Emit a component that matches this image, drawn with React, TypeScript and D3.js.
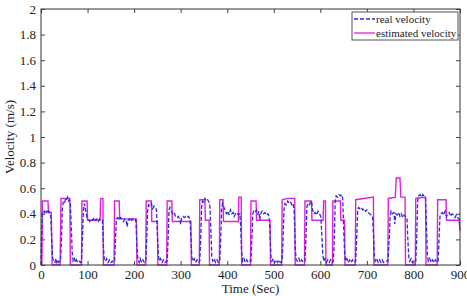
import React, { useEffect, useRef } from 'react';
import { select, scaleLinear, line, axisBottom, axisLeft, axisTop, axisRight, range } from 'd3';

// time (s), velocity (m/s)
const estimatedVelocity: [number, number][] = [
  [0, 0], [2, 0], [3, 0.5], [15, 0.5], [16, 0.41], [22, 0.41], [24, 0],
  [41, 0], [43, 0.52], [62, 0.52], [63, 0],
  [87, 0], [88, 0.5], [99, 0.5], [100, 0.35], [127, 0.35], [128, 0.52], [133, 0.52], [134, 0],
  [157, 0], [158, 0.5], [168, 0.5], [169, 0.36], [205, 0.36], [206, 0],
  [225, 0], [226, 0.5], [237, 0.5], [238, 0.34], [250, 0.34], [251, 0],
  [270, 0], [271, 0.5], [281, 0.5], [282, 0.34], [322, 0.34], [323, 0],
  [340, 0], [341, 0.51], [352, 0.51], [353, 0.35], [361, 0.35], [362, 0],
  [383, 0], [384, 0.51], [391, 0.51], [392, 0.34], [424, 0.34], [425, 0.53], [430, 0.53], [431, 0],
  [450, 0], [451, 0.5], [462, 0.5], [463, 0.35], [492, 0.35], [493, 0],
  [517, 0], [518, 0.51], [530, 0.52], [545, 0.52], [546, 0],
  [566, 0], [567, 0.5], [581, 0.5], [582, 0.35], [606, 0.35], [607, 0.5], [611, 0.5], [612, 0],
  [626, 0], [627, 0.5], [643, 0.5], [644, 0.35], [652, 0.35], [653, 0],
  [675, 0], [676, 0.51], [714, 0.53], [715, 0],
  [745, 0], [746, 0.52], [761, 0.53], [763, 0.68], [771, 0.68], [773, 0.53], [782, 0.53], [783, 0],
  [804, 0], [805, 0.52], [826, 0.53], [827, 0],
  [851, 0], [852, 0.51], [870, 0.51], [871, 0.35], [898, 0.35], [900, 0.27],
];

const realVelocity: [number, number][] = [
  [0, 0], [1, 0.2], [3, 0.4], [5, 0.42], [7, 0.41], [9, 0.43], [11, 0.41], [13, 0.42], [15, 0.4], [17, 0.42], [19, 0.41], [21, 0.38], [23, 0.2], [25, 0.06], [27, 0.03], [30, 0.02], [32, 0.05], [34, 0.02], [36, 0.04], [38, 0.02], [40, 0.03], [42, 0.03],
  [44, 0.2], [46, 0.45], [48, 0.5], [51, 0.49], [53, 0.52], [55, 0.51], [57, 0.53], [59, 0.5], [61, 0.51], [63, 0.48], [65, 0.3], [67, 0.1], [69, 0.03], [72, 0.05], [74, 0.02], [76, 0.04], [79, 0.02], [82, 0.03], [85, 0.02], [87, 0.03],
  [89, 0.2], [91, 0.42], [93, 0.48], [95, 0.45], [97, 0.4], [99, 0.37], [102, 0.36], [105, 0.34], [108, 0.36], [111, 0.35], [114, 0.37], [117, 0.35], [120, 0.36], [123, 0.34], [126, 0.36], [129, 0.35], [132, 0.35], [134, 0.15], [136, 0.04], [139, 0.03], [141, 0.05], [144, 0.02], [147, 0.04], [150, 0.02], [153, 0.03], [156, 0.02], [158, 0.03],
  [160, 0.2], [162, 0.36], [165, 0.37], [168, 0.35], [171, 0.37], [174, 0.36], [177, 0.34], [180, 0.36], [183, 0.35], [185, 0.3], [187, 0.35], [190, 0.36], [193, 0.34], [196, 0.36], [199, 0.35], [202, 0.36], [204, 0.34], [206, 0.15], [208, 0.04], [211, 0.02], [213, 0.05], [216, 0.02], [219, 0.04], [222, 0.02], [225, 0.03],
  [227, 0.2], [229, 0.42], [231, 0.47], [234, 0.46], [237, 0.48], [240, 0.44], [243, 0.46], [246, 0.45], [248, 0.43], [250, 0.25], [252, 0.08], [254, 0.03], [257, 0.05], [260, 0.02], [263, 0.04], [266, 0.02], [269, 0.03], [271, 0.03],
  [273, 0.2], [275, 0.43], [277, 0.45], [280, 0.42], [283, 0.4], [286, 0.41], [289, 0.38], [292, 0.37], [295, 0.38], [298, 0.36], [300, 0.32], [302, 0.37], [305, 0.38], [308, 0.37], [311, 0.38], [314, 0.37], [317, 0.38], [320, 0.36], [322, 0.2], [324, 0.06], [326, 0.03], [329, 0.05], [332, 0.02], [335, 0.04], [338, 0.02], [341, 0.03],
  [343, 0.2], [345, 0.45], [347, 0.5], [350, 0.49], [352, 0.52], [355, 0.5], [358, 0.51], [361, 0.49], [363, 0.45], [365, 0.25], [367, 0.06], [369, 0.03], [372, 0.05], [375, 0.02], [378, 0.04], [381, 0.02], [384, 0.03],
  [386, 0.2], [388, 0.44], [390, 0.48], [393, 0.45], [396, 0.42], [399, 0.4], [402, 0.42], [404, 0.39], [407, 0.43], [410, 0.4], [413, 0.41], [415, 0.38], [418, 0.4], [421, 0.41], [424, 0.39], [427, 0.4], [429, 0.3], [431, 0.1], [433, 0.03], [436, 0.05], [439, 0.02], [442, 0.04], [445, 0.02], [448, 0.03], [451, 0.03],
  [453, 0.2], [455, 0.4], [457, 0.42], [460, 0.41], [463, 0.43], [466, 0.4], [468, 0.42], [470, 0.35], [472, 0.4], [475, 0.42], [478, 0.4], [481, 0.41], [484, 0.39], [487, 0.4], [490, 0.38], [492, 0.25], [494, 0.06], [496, 0.03], [499, 0.05], [502, 0.02], [505, 0.04], [508, 0.02], [511, 0.04], [514, 0.02], [518, 0.03],
  [520, 0.2], [522, 0.44], [524, 0.48], [527, 0.47], [530, 0.5], [533, 0.48], [536, 0.49], [539, 0.47], [542, 0.48], [544, 0.4], [546, 0.15], [548, 0.04], [551, 0.03], [554, 0.05], [557, 0.02], [560, 0.04], [563, 0.02], [567, 0.03],
  [569, 0.2], [571, 0.45], [573, 0.48], [576, 0.47], [579, 0.49], [581, 0.5], [583, 0.44], [586, 0.4], [589, 0.41], [592, 0.39], [595, 0.42], [598, 0.4], [601, 0.38], [603, 0.25], [605, 0.1], [607, 0.03], [610, 0.05], [613, 0.02], [616, 0.04], [619, 0.02], [622, 0.04], [625, 0.02], [628, 0.03],
  [630, 0.2], [632, 0.5], [634, 0.54], [637, 0.53], [640, 0.55], [643, 0.54], [646, 0.55], [648, 0.52], [650, 0.3], [652, 0.1], [654, 0.03], [657, 0.05], [660, 0.02], [663, 0.04], [666, 0.02], [669, 0.04], [672, 0.02], [676, 0.03],
  [678, 0.2], [680, 0.42], [682, 0.45], [685, 0.44], [688, 0.45], [691, 0.43], [694, 0.44], [697, 0.42], [700, 0.43], [703, 0.41], [706, 0.4], [709, 0.39], [712, 0.38], [714, 0.25], [716, 0.08], [718, 0.03], [721, 0.05], [724, 0.02], [727, 0.04], [730, 0.02], [733, 0.04], [736, 0.02], [740, 0.03], [745, 0.03],
  [748, 0.2], [750, 0.38], [752, 0.42], [755, 0.4], [758, 0.41], [760, 0.32], [762, 0.4], [765, 0.39], [768, 0.41], [771, 0.38], [774, 0.4], [777, 0.37], [780, 0.39], [783, 0.38], [786, 0.37], [788, 0.2], [790, 0.06], [792, 0.03], [795, 0.05], [798, 0.02], [801, 0.04], [805, 0.03],
  [807, 0.2], [809, 0.5], [811, 0.54], [814, 0.55], [817, 0.53], [820, 0.55], [823, 0.54], [826, 0.52], [828, 0.3], [830, 0.08], [832, 0.03], [835, 0.05], [838, 0.02], [841, 0.04], [844, 0.02], [847, 0.04], [850, 0.02], [853, 0.03],
  [855, 0.2], [857, 0.38], [859, 0.4], [862, 0.41], [865, 0.39], [868, 0.42], [871, 0.38], [874, 0.4], [877, 0.41], [880, 0.38], [883, 0.4], [886, 0.39], [889, 0.37], [892, 0.39], [895, 0.37], [898, 0.36], [900, 0.33],
];

const xTicks = range(0, 901, 100);
const yTicks = range(0, 2.01, 0.2);
const legendItems = [
  { label: 'real velocity', color: '#2b2bd9', dash: '4,2' },
  { label: 'estimated velocity', color: '#e020e0', dash: null },
];

const W = 467;
const H = 296;
const margin = { top: 9, right: 7, bottom: 31, left: 41 };
const font = "'Liberation Serif', 'Times New Roman', serif";
const ink = '#222';

const Chart = () => {
  const ref = useRef<SVGSVGElement>(null);

  useEffect(() => {
    const svg = select(ref.current);
    svg.selectAll('*').remove();

    const x = scaleLinear().domain([0, 900]).range([margin.left, W - margin.right]);
    const y = scaleLinear().domain([0, 2]).range([H - margin.bottom, margin.top]);

    svg.append('rect').attr('width', W).attr('height', H).attr('fill', '#fff');

    const fmt = (d) => `${+d.toFixed(1)}`;

    // inward ticks on all four sides (matlab-style box)
    const bottom = svg
      .append('g')
      .attr('transform', `translate(0,${y(0)})`)
      .call(axisBottom(x).tickValues(xTicks).tickSize(-4).tickPadding(5));
    const left = svg
      .append('g')
      .attr('transform', `translate(${x(0)},0)`)
      .call(axisLeft(y).tickValues(yTicks).tickFormat(fmt).tickSize(-4).tickPadding(5));
    const top = svg
      .append('g')
      .attr('transform', `translate(0,${y(2)})`)
      .call(axisTop(x).tickValues(xTicks).tickSize(-4).tickFormat(() => ''));
    const right = svg
      .append('g')
      .attr('transform', `translate(${x(900)},0)`)
      .call(axisRight(y).tickValues(yTicks).tickSize(-4).tickFormat(() => ''));

    [bottom, left, top, right].forEach((g) => {
      g.attr('font-family', null).attr('font-size', null);
      g.select('.domain').remove();
      g.selectAll('line').attr('stroke', '#444');
      g.selectAll('text')
        .style('font-family', font)
        .style('font-size', '13px')
        .attr('fill', ink);
    });

    const lineGen = line<[number, number]>()
      .x((d) => x(d[0]))
      .y((d) => y(d[1]));

    svg
      .append('path')
      .datum(estimatedVelocity)
      .attr('d', lineGen)
      .attr('fill', 'none')
      .attr('stroke', legendItems[1].color)
      .attr('stroke-width', 1.4);

    svg
      .append('path')
      .datum(realVelocity)
      .attr('d', lineGen)
      .attr('fill', 'none')
      .attr('stroke', legendItems[0].color)
      .attr('stroke-width', 1.3)
      .attr('stroke-dasharray', legendItems[0].dash);

    // frame
    svg
      .append('rect')
      .attr('x', x(0))
      .attr('y', y(2))
      .attr('width', x(900) - x(0))
      .attr('height', y(0) - y(2))
      .attr('fill', 'none')
      .attr('stroke', '#333')
      .attr('stroke-width', 1);

    // legend
    const lg = svg.append('g').attr('transform', 'translate(352,12)');
    lg.append('rect')
      .attr('width', 106)
      .attr('height', 28)
      .attr('fill', '#fff')
      .attr('stroke', '#555');
    legendItems.forEach((it, i) => {
      const yy = 7 + i * 14;
      lg.append('line')
        .attr('x1', 2)
        .attr('x2', 23)
        .attr('y1', yy)
        .attr('y2', yy)
        .attr('stroke', it.color)
        .attr('stroke-width', 1.3)
        .attr('stroke-dasharray', it.dash);
      lg.append('text')
        .attr('x', 24)
        .attr('y', yy + 4)
        .style('font-family', font)
        .style('font-size', '11px')
        .attr('fill', ink)
        .text(it.label);
    });

    svg
      .append('text')
      .attr('x', (x(0) + x(900)) / 2)
      .attr('y', 293)
      .attr('text-anchor', 'middle')
      .style('font-family', font)
      .style('font-size', '13px')
      .attr('fill', ink)
      .text('Time (Sec)');

    svg
      .append('text')
      .attr('transform', `translate(14,${(y(0) + y(2)) / 2}) rotate(-90)`)
      .attr('text-anchor', 'middle')
      .style('font-family', font)
      .style('font-size', '13px')
      .attr('fill', ink)
      .text('Velocity (m/s)');
  }, []);

  return <svg ref={ref} width={W} height={H} style={{ position: 'absolute', left: 0, top: 0 }} />;
};

export default function App() {
  return <Chart />;
}
